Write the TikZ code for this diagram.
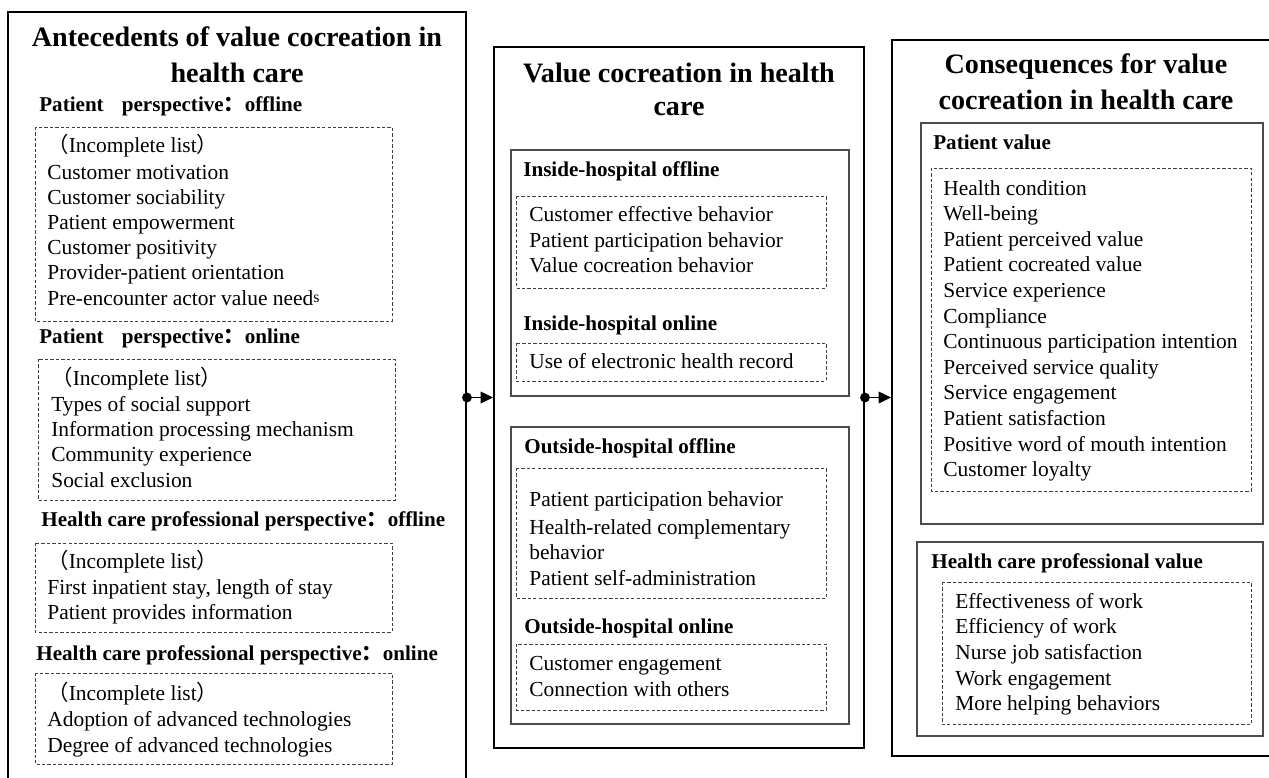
\documentclass[tikz,border=0pt]{standalone}
\usepackage{fontspec}
\setmainfont{Liberation Serif}
\newfontfamily\cjk{Noto Sans CJK SC}
\usepackage{tikz}
\usetikzlibrary{arrows.meta, positioning, fit}

\newcommand{\fcolon}{{\cjk ：}}
\newcommand{\incl}{{\cjk （}Incomplete list{\cjk ）}}

\begin{document}
\begin{tikzpicture}[x=0.02cm, y=-0.02cm,
    outerbox/.style={draw, line width=1.1pt, inner sep=0pt},
    panel/.style={draw=black!70, line width=0.6pt},
    dashbox/.style={draw=black!75, line width=0.5pt, dash pattern=on 1.9pt off 1.2pt},
    title/.style={font=\fontsize{16}{19.8}\selectfont\bfseries, anchor=base, inner sep=0pt},
    head/.style={font=\fontsize{12}{14.5}\selectfont\bfseries, anchor=base west, inner sep=0pt},
    item/.style={font=\fontsize{12.2}{14.5}\selectfont, anchor=base west, inner sep=0pt},
    link/.style={line width=1.1pt, {Circle[length=5.5pt]}-{Triangle[length=7pt,width=6.5pt]}, shorten <=-2.75pt}]
    \useasboundingbox (0,0) rectangle (1269,778);

    % antecedents
    \node[outerbox, fit={(8,12) (466,790)}] (ante) {};
    \node[title] (ante-t1) at (237,46) {Antecedents of value cocreation in};
    \node[title] (ante-t2) at (237,82) {health care};

    \node[head] (pof-h) at (39,111) {Patient\hspace{0.86em}perspective\fcolon offline};
    \draw[dashbox] (35,127) rectangle (392,321);
    \node[item] (pof-0) at (47,152) {\incl};
    \node[item] (pof-1) at (47,179) {Customer motivation};
    \node[item] (pof-2) at (47,204.2) {Customer sociability};
    \node[item] (pof-3) at (47,229.4) {Patient empowerment};
    \node[item] (pof-4) at (47,254.6) {Customer positivity};
    \node[item] (pof-5) at (47,279.8) {Provider-patient orientation};
    \node[item] (pof-6) at (47,305) {Pre-encounter actor value need{\fontsize{9}{9}\selectfont\raisebox{1.5pt}{s}}};

    \node[head] (pon-h) at (39,343) {Patient\hspace{0.86em}perspective\fcolon online};
    \draw[dashbox] (38,359) rectangle (395,500);
    \node[item] (pon-0) at (51,385) {\incl};
    \node[item] (pon-1) at (51,411) {Types of social support};
    \node[item] (pon-2) at (51,436) {Information processing mechanism};
    \node[item] (pon-3) at (51,461.5) {Community experience};
    \node[item] (pon-4) at (51,487) {Social exclusion};

    \node[head] (hof-h) at (41,526) {Health care professional perspective\fcolon offline};
    \draw[dashbox] (35,543) rectangle (392,632);
    \node[item] (hof-0) at (47,568) {\incl};
    \node[item] (hof-1) at (47,594) {First inpatient stay, length of stay};
    \node[item] (hof-2) at (47,619.5) {Patient provides information};

    \node[head] (hon-h) at (36,660) {Health care professional perspective\fcolon online};
    \draw[dashbox] (35,673) rectangle (392,764);
    \node[item] (hon-0) at (47,700) {\incl};
    \node[item] (hon-1) at (47,726) {Adoption of advanced technologies};
    \node[item] (hon-2) at (47,752) {Degree of advanced technologies};

    % value cocreation
    \node[outerbox, fit={(494,47) (864,748)}] (vcc) {};
    \node[title] (vcc-t1) at (679,82) {Value cocreation in health};
    \node[title] (vcc-t2) at (679,115) {care};

    \draw[panel] (511,150) rectangle (849,396);
    \node[head] (ihf-h) at (523,176) {Inside-hospital offline};
    \draw[dashbox] (516,196) rectangle (826,288);
    \node[item] (ihf-1) at (529,221.7) {Customer effective behavior};
    \node[item] (ihf-2) at (529,247) {Patient participation behavior};
    \node[item] (ihf-3) at (529,272.3) {Value cocreation behavior};
    \node[head] (ihn-h) at (523,330) {Inside-hospital online};
    \draw[dashbox] (516,343) rectangle (826,381);
    \node[item] (ihn-1) at (529,368) {Use of electronic health record};

    \draw[panel] (511,427) rectangle (849,724);
    \node[head] (ohf-h) at (524,453) {Outside-hospital offline};
    \draw[dashbox] (516,468) rectangle (826,598);
    \node[item] (ohf-1) at (529,506) {Patient participation behavior};
    \node[item] (ohf-2) at (529,534) {Health-related complementary};
    \node[item] (ohf-3) at (529,559.3) {behavior};
    \node[item] (ohf-4) at (529,585.7) {Patient self-administration};
    \node[head] (ohn-h) at (524,633) {Outside-hospital online};
    \draw[dashbox] (516,644) rectangle (826,710);
    \node[item] (ohn-1) at (529,670) {Customer engagement};
    \node[item] (ohn-2) at (529,696) {Connection with others};

    % consequences
    \node[outerbox, fit={(892,40) (1290,756)}] (cons) {};
    \node[title] (cons-t1) at (1086,73) {Consequences for value};
    \node[title] (cons-t2) at (1086,109) {cocreation in health care};

    \draw[panel] (921,123) rectangle (1263,524);
    \node[head] (pv-h) at (933,149) {Patient value};
    \draw[dashbox] (931,168) rectangle (1251,491);
    \node[item] (pv-1) at (943,195) {Health condition};
    \node[item] (pv-2) at (943,220.6) {Well-being};
    \node[item] (pv-3) at (943,246.2) {Patient perceived value};
    \node[item] (pv-4) at (943,271.8) {Patient cocreated value};
    \node[item] (pv-5) at (943,297.4) {Service experience};
    \node[item] (pv-6) at (943,323) {Compliance};
    \node[item] (pv-7) at (943,348.6) {Continuous participation intention};
    \node[item] (pv-8) at (943,374.2) {Perceived service quality};
    \node[item] (pv-9) at (943,399.8) {Service engagement};
    \node[item] (pv-10) at (943,425.4) {Patient satisfaction};
    \node[item] (pv-11) at (943,451) {Positive word of mouth intention};
    \node[item] (pv-12) at (943,476.6) {Customer loyalty};

    \draw[panel] (917,542) rectangle (1263,736);
    \node[head] (hv-h) at (931,568) {Health care professional value};
    \draw[dashbox] (942,582) rectangle (1251,724);
    \node[item] (hv-1) at (955,608.3) {Effectiveness of work};
    \node[item] (hv-2) at (955,633.9) {Efficiency of work};
    \node[item] (hv-3) at (955,659.5) {Nurse job satisfaction};
    \node[item] (hv-4) at (955,685.1) {Work engagement};
    \node[item] (hv-5) at (955,710.7) {More helping behaviors};

    % links
    \draw[link] (ante.east |- vcc.west) -- (vcc.west);
    \draw[link] (vcc.east) -- (cons.west |- vcc.east);
\end{tikzpicture}
\end{document}
